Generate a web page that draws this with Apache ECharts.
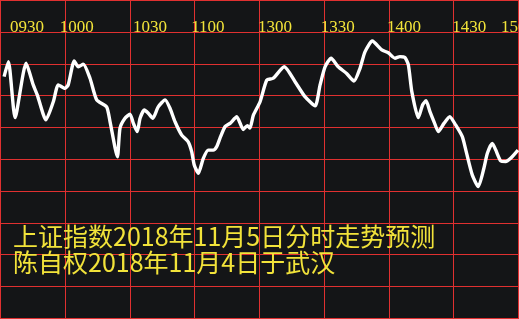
<!DOCTYPE html>
<html>
<head>
<meta charset="utf-8">
<script src="https://cdn.jsdelivr.net/npm/echarts@6/dist/echarts.min.js"></script>
<style>
html,body{margin:0;padding:0;background:#141517;}
#chart{width:519px;height:319px;}
</style>
</head>
<body>
<div id="chart"></div>
<script>
// minutes since 09:30 (trading minutes, 240 total)
var minutes = [1.9,3.9,7.0,12.1,15.4,17.3,21.3,24.7,27.0,30.1,31.6,34.4,36.3,38.6,41.7,44.8,49.4,51.0,54.4,55.6,57.9,60.2,61.8,63.6,64.9,66.9,68.7,70.8,73.3,76.5,78.8,81.1,84.2,87.2,88.8,90.0,91.9,94.2,96.5,98.8,100.4,101.9,104.3,106.6,109.7,112.7,114.6,115.8,117.4,120.5,123.6,126.6,131.7,136.7,141.3,146.0,148.3,150.6,153.4,156.7,160.6,164.0,166.8,169.1,172.5,176.9,179.9,183.0,185.3,187.6,189.2,190.8,193.8,195.8,197.4,199.2,201.1,203.1,205.7,208.4,211.1,214.2,216.0,218.8,221.6,224.2,225.8,228.1,229.7,232.0,234.3,236.6,240.0];
var values = [7.59,8.06,6.30,8.01,7.33,7.01,6.23,6.80,7.33,7.22,7.33,8.08,7.90,7.98,7.54,6.86,6.64,6.17,5.07,5.97,6.28,6.41,6.12,5.86,6.28,6.54,6.44,6.28,6.64,6.86,6.59,6.17,5.75,5.54,5.23,4.81,4.55,5.02,5.28,5.28,5.39,5.65,6.02,6.12,6.33,5.93,6.05,5.97,6.38,6.80,7.48,7.54,7.90,7.43,6.96,6.67,7.33,7.90,8.17,7.90,7.69,7.45,7.85,8.37,8.71,8.43,8.34,8.17,8.22,8.19,7.96,7.12,6.30,6.70,6.83,6.49,6.17,5.86,6.12,6.33,6.07,5.70,5.23,4.50,4.13,4.71,5.18,5.49,5.28,4.94,4.92,5.02,5.28];
var tickLabels = ['0930','1000','1030','1100','1300','1330','1400','1430','1500'];
var tickMinutes = [0,30,60,90,120,150,180,210,240];
var yGridValues = [0,1,2,3,4,5,6,7,8,9,10];
var titleLines = ['上证指数2018年11月5日分时走势预测','陈自权2018年11月4日于武汉'];

// layout only
var tickLabelDx = [10,-5,3.5,-3,-1,-3,-1.5,-1,-17];

var seriesData = minutes.map(function(m,i){return [m, values[i]];});
var red = '#e03030', yellow = '#f2e33a';

var chart = echarts.init(document.getElementById('chart'), null, {renderer:'canvas'});
chart.setOption({
  backgroundColor:'#141517',
  animation:false,
  grid:{left:0,right:1,top:0,bottom:1,containLabel:false},
  xAxis:{type:'value',min:0,max:240,interval:30,
    axisLine:{show:false},axisLabel:{show:false},axisTick:{show:false},splitLine:{show:false}},
  yAxis:{type:'value',min:0,max:10,interval:1,
    axisLine:{show:false},axisLabel:{show:false},axisTick:{show:false},splitLine:{show:false}},
  series:[{type:'line',data:seriesData,smooth:0.2,symbol:'none',z:5,
    lineStyle:{color:'#ffffff',width:3.4}}]
});

var g = [];
var yTop = chart.convertToPixel({yAxisIndex:0}, 10), yBot = chart.convertToPixel({yAxisIndex:0}, 0);
var xL = chart.convertToPixel({xAxisIndex:0}, 0), xR = chart.convertToPixel({xAxisIndex:0}, 240);
tickMinutes.forEach(function(m){
  var px = Math.round(chart.convertToPixel({xAxisIndex:0}, m)) + 0.5;
  g.push({type:'line',z:1,silent:true,shape:{x1:px,y1:yTop,x2:px,y2:yBot+1},style:{stroke:red,lineWidth:1}});
});
yGridValues.forEach(function(v){
  var py = Math.round(chart.convertToPixel({yAxisIndex:0}, v)) + 0.5;
  g.push({type:'line',z:1,silent:true,shape:{x1:xL,y1:py,x2:xR+1,y2:py},style:{stroke:red,lineWidth:1}});
});
tickLabels.forEach(function(t,i){
  var px = chart.convertToPixel({xAxisIndex:0}, tickMinutes[i]);
  g.push({type:'text',z:10,left:px+tickLabelDx[i],top:19,
    style:{text:t,fill:yellow,font:'17px "Liberation Serif"'}});
});
titleLines.forEach(function(t,i){
  g.push({type:'text',z:10,left:13,top:224+i*26,
    style:{text:t,fill:yellow,font:'25px "Noto Sans CJK SC"'}});
});
chart.setOption({graphic:g});
</script>
</body>
</html>
